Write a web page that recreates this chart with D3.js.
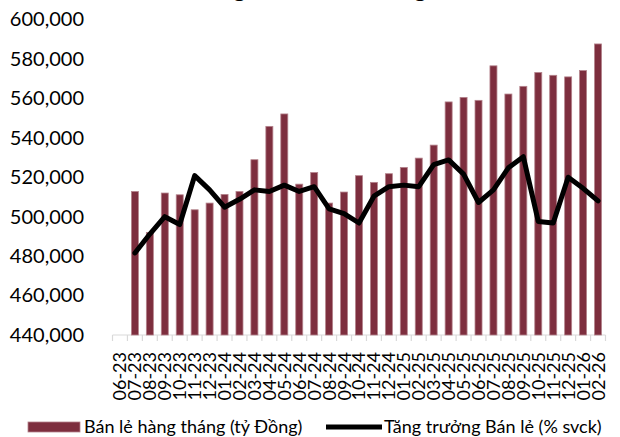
<!DOCTYPE html>
<html>
<head>
<meta charset="utf-8">
<script src="https://cdn.jsdelivr.net/npm/d3@7"></script>
<style>
  html, body { margin: 0; padding: 0; background: #fff; }
  svg { display: block; font-family: Lato, "Open Sans", sans-serif; }
</style>
</head>
<body>
<svg id="chart" width="620" height="437"></svg>
<script>
// Monthly categories (MM-YY)
const months = ["06-23","07-23","08-23","09-23","10-23","11-23","12-23",
  "01-24","02-24","03-24","04-24","05-24","06-24","07-24","08-24","09-24","10-24","11-24","12-24",
  "01-25","02-25","03-25","04-25","05-25","06-25","07-25","08-25","09-25","10-25","11-25","12-25",
  "01-26","02-26"];

// Monthly retail sales (billion VND)
const retailSales = [null, 512800, 492000, 512000, 511100, 503500, 506900,
  511300, 512800, 528900, 545800, 552100, 516500, 522400, 506900, 512500, 520800, 517400, 521800,
  525000, 529700, 536300, 558200, 560500, 559000, 576500, 562200, 566100, 573100, 571700, 570900,
  574100, 587600];

// Year-over-year retail growth (%), plotted on a hidden secondary scale
const retailGrowth = [null, 5.2, 6.4, 7.5, 7.0, 10.1, 9.2,
  8.1, 8.6, 9.2, 9.1, 9.5, 9.1, 9.4, 8.0, 7.7, 7.1, 8.8, 9.4,
  9.5, 9.4, 10.8, 11.1, 10.2, 8.4, 9.2, 10.6, 11.3, 7.2, 7.1, 10.0,
  9.3, 8.5];

const yTicks = [440000, 460000, 480000, 500000, 520000, 540000, 560000, 580000, 600000];

const seriesNames = ["Bán lẻ hàng tháng (tỷ Đồng)", "Tăng trưởng Bán lẻ (% svck)"];
const titleText = "Tổng mức bán lẻ hàng hóa";

const barColor = "#7d2e3e";
const barEdge = "#b4838c";

const svg = d3.select("#chart");
const plot = { left: 112.5, right: 605.5, top: 19.5, bottom: 335 };

const x = d3.scaleBand().domain(months).range([plot.left, plot.right]).paddingInner(0).paddingOuter(0);
const y = d3.scaleLinear().domain([440000, 600000]).range([plot.bottom, plot.top]);
const y2 = d3.scaleLinear().domain([0, 20]).range([plot.bottom, plot.top]);

// Title (sits at the very top edge, mostly above the page)
svg.append("text")
  .attr("x", 333).attr("y", -3)
  .attr("text-anchor", "middle")
  .attr("font-size", 24).attr("font-weight", "bold")
  .attr("fill", "#000")
  .text(titleText);

// Y axis labels
const yAxis = d3.axisLeft(y).tickValues(yTicks).tickFormat(d3.format(",")).tickSize(0).tickPadding(0);
const gy = svg.append("g").attr("transform", "translate(84,0)").call(yAxis);
gy.select(".domain").remove();
gy.selectAll("text").attr("font-size", 20).attr("fill", "#000").attr("font-family", "Lato, sans-serif");

// X axis: light baseline, boundary ticks, rotated month labels
const gx = svg.append("g");
gx.append("line")
  .attr("x1", plot.left).attr("x2", plot.right)
  .attr("y1", plot.bottom).attr("y2", plot.bottom)
  .attr("stroke", "#d9d9d9").attr("stroke-width", 1.2);
const bounds = months.map(m => x(m)).concat([x(months[months.length - 1]) + x.bandwidth()]);
gx.selectAll("line.tick").data(bounds).join("line")
  .attr("class", "tick")
  .attr("x1", d => d).attr("x2", d => d)
  .attr("y1", plot.bottom).attr("y2", plot.bottom + 6)
  .attr("stroke", "#d9d9d9").attr("stroke-width", 1.2);
gx.selectAll("text").data(months).join("text")
  .attr("transform", d => `translate(${x(d) + x.bandwidth() / 2},${plot.bottom + 17}) rotate(-90)`)
  .attr("text-anchor", "end")
  .attr("dy", "0.36em")
  .attr("font-size", 18)
  .attr("fill", "#000")
  .text(d => d);

// Bars
const barW = 7;
svg.append("g").selectAll("rect")
  .data(months.map((m, i) => ({ m, v: retailSales[i] })).filter(d => d.v != null))
  .join("rect")
  .attr("x", d => x(d.m) + x.bandwidth() / 2 - barW / 2)
  .attr("width", barW)
  .attr("y", d => y(d.v))
  .attr("height", d => plot.bottom - y(d.v))
  .attr("fill", barColor)
  .attr("stroke", barEdge)
  .attr("stroke-width", 0.8);

// Growth line
const line = d3.line()
  .defined(d => d.v != null)
  .x(d => x(d.m) + x.bandwidth() / 2)
  .y(d => y2(d.v));
svg.append("path")
  .datum(months.map((m, i) => ({ m, v: retailGrowth[i] })))
  .attr("d", line)
  .attr("fill", "none")
  .attr("stroke", "#000")
  .attr("stroke-width", 5)
  .attr("stroke-linejoin", "round")
  .attr("stroke-linecap", "round");

// Legend
const lg = svg.append("g").attr("font-size", 18).attr("fill", "#000");
lg.append("rect").attr("x", 28).attr("y", 422).attr("width", 52).attr("height", 10)
  .attr("fill", barColor).attr("stroke", barEdge).attr("stroke-width", 0.8);
lg.append("text").attr("x", 84).attr("y", 427).attr("dy", "0.35em").text(seriesNames[0]);
lg.append("line").attr("x1", 326).attr("x2", 382).attr("y1", 427).attr("y2", 427)
  .attr("stroke", "#000").attr("stroke-width", 5);
lg.append("text").attr("x", 384).attr("y", 427).attr("dy", "0.35em").text(seriesNames[1]);
</script>
</body>
</html>
